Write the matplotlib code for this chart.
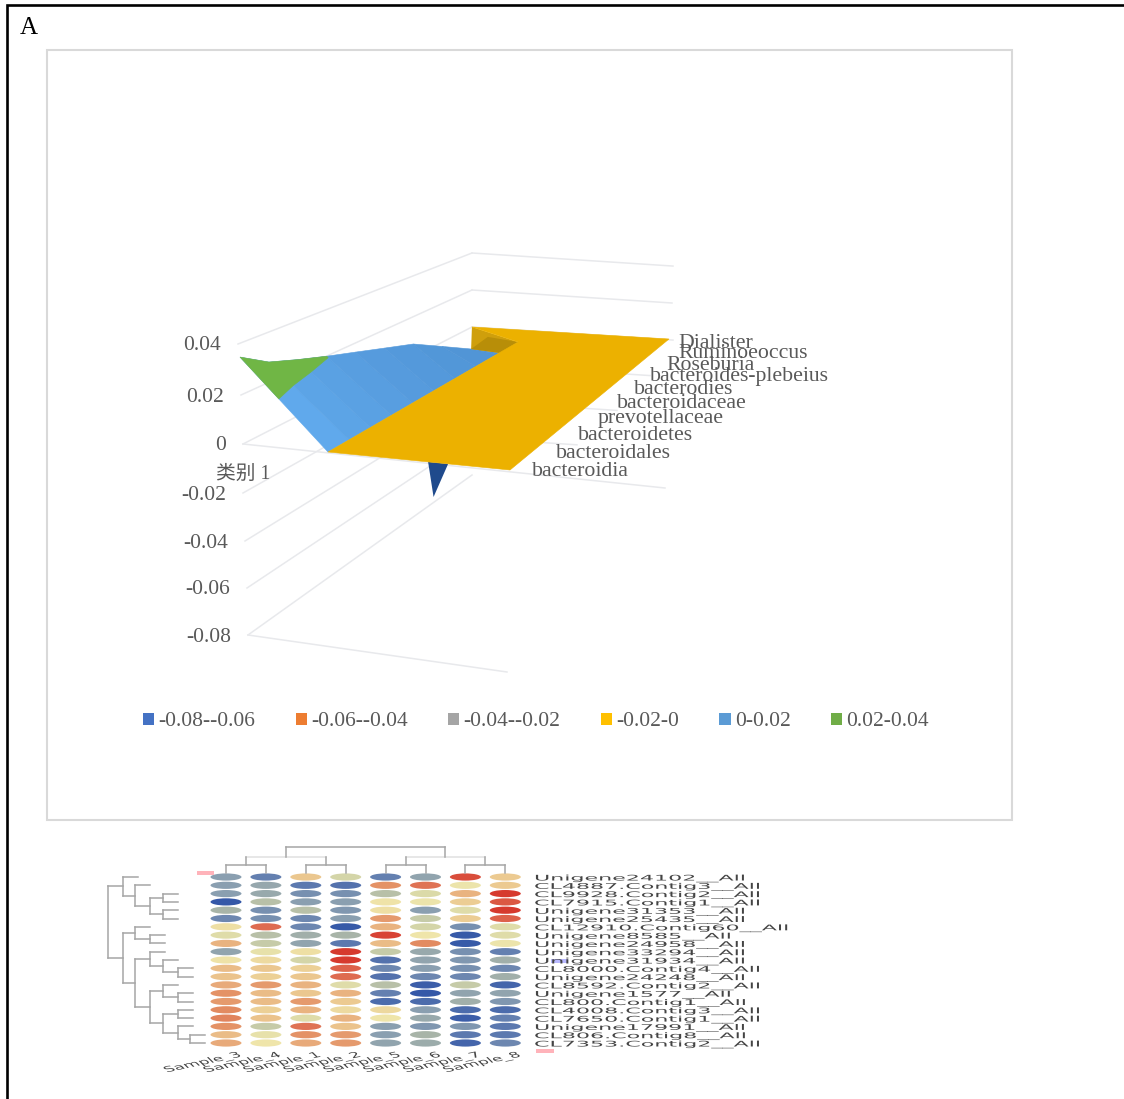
import numpy as np
import matplotlib
matplotlib.use('Agg')
import matplotlib.pyplot as plt
import matplotlib.patheffects as pe
from matplotlib.colors import LinearSegmentedColormap
from matplotlib.patches import Ellipse, Patch, Polygon, Rectangle
from matplotlib.transforms import Affine2D

plt.rcParams['font.family'] = ['Liberation Serif', 'Noto Sans CJK SC', 'DejaVu Sans']

# surface chart data
series_names = ['bacteroidia', 'bacteroidales', 'bacteroidetes', 'prevotellaceae', 'bacteroidaceae',
                'bacterodies', 'bacteroides-plebeius', 'Roseburia', 'Ruminoeoccus', 'Dialister']
wing_value = [0.0358, 0.0287, 0.0245, 0.0205, 0.0197, 0.0188, 0.0179, 0.0137, 0.0092, 0.0037]
flap_across = [-0.305, -0.2]
flap_value = [0.0084, 0.003]
spike_across = [0.55, 0.66, 0.58]
spike_value = [0.0, 0.0, -0.0144]
axis_values = [0.04, 0.02, 0, -0.02, -0.04, -0.06, -0.08]
axis_labels = ['0.04', '0.02', '0', '-0.02', '-0.04', '-0.06', '-0.08']
band_names = ['-0.08--0.06', '-0.06--0.04', '-0.04--0.02', '-0.02-0', '0-0.02', '0.02-0.04']
band_colors = ['#4472C4', '#ED7D31', '#A5A5A5', '#FFC000', '#5B9BD5', '#70AD47']

# heatmap data
sample_names = ['Sample_3', 'Sample_4', 'Sample_1', 'Sample_2', 'Sample_5', 'Sample_6', 'Sample_7', 'Sample_8']
gene_names = ['Unigene24102__All', 'CL4887.Contig3__All', 'CL9928.Contig2__All', 'CL7915.Contig1__All',
              'Unigene31353__All', 'Unigene25435__All', 'CL12910.Contig60__All', 'Unigene8585__All',
              'Unigene24958__All', 'Unigene33294__All', 'Unigene31934__All', 'CL8000.Contig4__All',
              'Unigene24248__All', 'CL8592.Contig2__All', 'Unigene1577__All', 'CL800.Contig1__All',
              'CL4008.Contig3__All', 'CL7650.Contig1__All', 'Unigene17991__All', 'CL806.Contig8__All',
              'CL7353.Contig2__All']
heat = [[-.5, -.7, .2, -.15, -.7, -.45, .9, .18],
        [-.5, -.42, -.75, -.8, .5, .7, -.02, .18],
        [-.5, -.4, -.6, -.6, -.25, -.12, .3, 1],
        [-1, -.25, -.5, -.5, .02, -.02, .17, .85],
        [-.3, -.6, -.25, -.55, .05, -.5, -.1, 1],
        [-.65, -.6, -.65, -.5, .45, -.2, .17, .8],
        [.05, .75, -.65, -.98, .3, -.15, -.6, -.1],
        [-.1, -.25, -.35, -.3, .95, 0, -.98, -.1],
        [.3, -.2, -.45, -.75, .25, .55, -.98, -.02],
        [-.45, -.05, .05, 1, -.2, -.4, -.6, -.7],
        [.03, .08, -.15, 1, -.8, -.45, -.55, -.35],
        [.25, .2, .15, .8, -.65, -.5, -.6, -.65],
        [.22, .15, .2, .75, -.8, -.65, -.65, -.35],
        [.35, .45, .3, -.1, -.25, -.95, -.2, -.9],
        [.5, .25, .2, .3, -.7, -1, -.45, -.45],
        [.45, .25, .45, .18, -.85, -.85, -.35, -.55],
        [.55, .15, .3, .08, .1, -.5, -.85, -.85],
        [.6, .22, -.1, .3, 0, -.4, -.95, -.7],
        [.5, -.2, .7, .22, -.5, -.55, -.55, -.75],
        [.25, -.05, .5, .45, -.5, -.3, -.75, -.75],
        [.35, 0, .35, .45, -.45, -.38, -.9, -.65]]
# tree merges: child a, child b, height (children above 20 are earlier merges)
row_merges = [(2, 3, .42), (4, 5, .42), (21, 22, .56), (1, 23, .72), (0, 24, .84), (7, 8, .56),
              (6, 26, .72), (11, 12, .26), (10, 28, .42), (9, 29, .56), (14, 15, .26), (13, 31, .42),
              (16, 17, .26), (19, 20, .14), (18, 34, .26), (33, 35, .42), (32, 36, .56), (30, 37, .72),
              (27, 38, .84), (25, 39, 1.0)]
col_merges = [(0, 1, .31), (2, 3, .31), (4, 5, .31), (6, 7, .31), (8, 9, .62), (10, 11, .62), (12, 13, 1.0)]

# layout
label_x = [532, 556, 578, 598, 617, 634, 650, 666, 678, 678]
label_y = [472, 453, 435, 419, 404, 390, 377, 365, 354, 343]
wall_x = [238, 241, 243, 243, 245, 247, 248]
wall_y = [344, 395, 444, 493, 541, 588, 635]
wall_end = [673, 672, 673, 650, 617, 577, None]
grid_color = '#e8e9ec'
text_color = '#595959'


class Stretch(pe.AbstractPathEffect):
    # widen text about x0, the heatmap in the figure is squashed vertically
    def __init__(self, x0, k):
        super().__init__()
        self.x0 = x0
        self.k = k

    def draw_path(self, renderer, gc, tpath, affine, rgbFace=None):
        wide = affine + Affine2D().translate(-self.x0, 0).scale(self.k, 1).translate(self.x0, 0)
        renderer.draw_path(gc, tpath, wide, rgbFace)


def sheet_point(a, t, v):
    hx, hy = 328 + 190 * t, 452 - 110 * t
    rx, ry = 510 + 159 * t, 470 - 131 * t
    return hx + a * (rx - hx), hy + a * (ry - hy) - (2400 - 500 * t) * v


def wing_point(t, v):
    return 240 + 260 * t, np.interp(t, [0, 1 / 3, 1], [443, 402, 360]) - (2400 - 500 * t) * v


fig = plt.figure(figsize=(11.24, 10.99), dpi=100)
ax = fig.add_axes([0, 0, 1, 1])
ax.set_xlim(0, 1124)
ax.set_ylim(1099, 0)
ax.axis('off')

# page frame and chart box
ax.plot([7, 7, 1124], [1099, 5, 5], color='black', lw=1.9, solid_joinstyle='miter')
ax.add_patch(Rectangle((47, 50), 965, 770, fill=False, ec='#d9d9d9', lw=1.5))
ax.text(20, 34, 'A', fontsize=18, color='black', ha='left', va='baseline')

# walls of the 3d box
for i, v in enumerate(axis_values):
    back_y = 327 - 1850 * v
    ax.plot([wall_x[i], 472], [wall_y[i], back_y], color=grid_color, lw=1.1, zorder=1)
    if wall_end[i] is not None:
        end_y = back_y + (wall_end[i] - 472) * 0.065
        ax.plot([472, wall_end[i]], [back_y, end_y], color=grid_color, lw=1.1, zorder=1)
    ax.text(wall_x[i] - 17, wall_y[i] + 2, axis_labels[i], fontsize=15.5, color=text_color, ha='right', va='center')
ax.plot([243, 665], [444, 488], color=grid_color, lw=1.1, zorder=1)
ax.plot([248, 507], [635, 672], color=grid_color, lw=1.1, zorder=1)
ax.text(216, 474, '类别 1', fontsize=14.2, color=text_color, ha='left', va='center')

# surface, one facet per pair of neighbouring series
t = np.linspace(0, 1, len(series_names))
front = np.array(matplotlib.colors.to_rgb('#60A9EC'))
back = np.array(matplotlib.colors.to_rgb('#4E91D2'))
wing = [wing_point(t[i], wing_value[i]) for i in range(len(t))]
hinge = [sheet_point(0, t[i], 0) for i in range(len(t))]
for i in range(len(t) - 1):
    c = front + (back - front) * t[i] ** 0.7
    ax.add_patch(Polygon([hinge[i], hinge[i + 1], wing[i + 1], wing[i]], fc=c, ec=c, lw=0.4, zorder=3))

# part of the wing above 0.02
contour = []
top = []
for i in range(len(t)):
    if wing_value[i] > 0.02:
        f = 0.02 / wing_value[i]
        contour.append((hinge[i][0] + f * (wing[i][0] - hinge[i][0]), hinge[i][1] + f * (wing[i][1] - hinge[i][1])))
        top.append(wing[i])
ax.add_patch(Polygon(contour + top[::-1], fc='#70B645', ec='#70B645', lw=0.4, zorder=4))

# fold behind the flat sheet
corner = sheet_point(flap_across[0], 1, flap_value[0])
inner = sheet_point(flap_across[1], 1, flap_value[1])
ax.add_patch(Polygon([corner, hinge[-1], wing[-1], wing[-2]], fc='#CF9F0C', ec='none', zorder=4))
ax.add_patch(Polygon([inner, hinge[-1], wing[-1], wing[-2]], fc='#B88E08', ec='none', zorder=4))

# negative spike under the sheet
spike = [sheet_point(spike_across[i], 0, spike_value[i]) for i in range(3)]
ax.add_patch(Polygon(spike, fc='#1F4A8C', ec='none', zorder=2))

# flat sheet close to zero
sheet = [sheet_point(0, 0, 0), sheet_point(1, 0, 0), sheet_point(1, 1, 0), corner, sheet_point(0, 1, 0)]
ax.add_patch(Polygon(sheet, fc='#ECB100', ec='#ECB100', lw=0.4, zorder=5))

for i, name in enumerate(series_names):
    ax.text(label_x[i], label_y[i], name, fontsize=15.7, color=text_color, ha='left', va='center', zorder=6)

handles = [Patch(fc=c, ec='none') for c in band_colors]
ax.legend(handles, band_names, ncol=6, frameon=False, loc='center left', bbox_to_anchor=(143 / 1124, 1 - 722 / 1099),
          prop={'size': 15.5}, labelcolor=text_color, handlelength=0.52, handleheight=0.52, handletextpad=0.2,
          columnspacing=1.87, borderpad=0, borderaxespad=0)

# heatmap
cmap = LinearSegmentedColormap.from_list('heat', [(0, '#3558A8'), (.15, '#6480B0'), (.25, '#8A9FB0'), (.35, '#A8B4A8'),
                                                  (.43, '#D8D8A8'), (.5, '#EFE6AB'), (.58, '#ECCF95'), (.68, '#E8A878'),
                                                  (.78, '#E28A60'), (.88, '#DE6A50'), (1, '#D63A2E')])
col_x = 226 + 39.9 * np.arange(len(sample_names))
row_y = 877 + 8.3 * np.arange(len(gene_names))
for r, row in enumerate(heat):
    for c, v in enumerate(row):
        ax.add_patch(Ellipse((col_x[c], row_y[r]), 31, 7.2, fc=cmap((v + 1) / 2), ec='none'))
    ax.text(534, row_y[r] + 1, gene_names[r], fontsize=5.6, family='DejaVu Sans', color='#444444', va='center', ha='left',
            path_effects=[Stretch(534, 2.85)])
for c, name in enumerate(sample_names):
    ax.text(col_x[c] + 10, 1050, name, fontsize=5.6, family='DejaVu Sans', color='#444444', ha='right', va='top',
            rotation=25, rotation_mode='anchor', path_effects=[Stretch(col_x[c] + 10, 2.2)])

# row tree
pos = list(range(len(gene_names)))
hts = [None] * len(gene_names)
for a, b, h in row_merges:
    x = 203 - 95 * h
    ax.plot([x, x], [877 + 8.3 * pos[a], 877 + 8.3 * pos[b]], color='#a6a6a6', lw=1.1)
    for k in (a, b):
        end = x + 15 if hts[k] is None else 203 - 95 * hts[k]
        ax.plot([x, end], [877 + 8.3 * pos[k]] * 2, color='#a6a6a6', lw=1.1)
    pos.append((pos[a] + pos[b]) / 2)
    hts.append(h)

# column tree
pos = list(range(len(sample_names)))
hts = [None] * len(sample_names)
for a, b, h in col_merges:
    y = 873 - 26 * h
    line = '#e0e0e0' if h == .62 else '#a6a6a6'
    ax.plot([col_x[0] + 39.9 * pos[a], col_x[0] + 39.9 * pos[b]], [y, y], color=line, lw=1.1)
    for k in (a, b):
        end = y + 8 if hts[k] is None else 873 - 26 * hts[k]
        ax.plot([col_x[0] + 39.9 * pos[k]] * 2, [y, end], color='#a6a6a6', lw=1.1)
    pos.append((pos[a] + pos[b]) / 2)
    hts.append(h)

# small pink and blue marks left on the picture
ax.add_patch(Rectangle((197, 871), 17, 3.5, fc='#FFB3BA', ec='none'))
ax.add_patch(Rectangle((536, 1049), 18, 3.5, fc='#FFB3BA', ec='none'))
ax.add_patch(Rectangle((551, 959), 17, 4, fc='#A8A8FF', ec='none', alpha=0.8))

fig.savefig('out.png', dpi=100)
